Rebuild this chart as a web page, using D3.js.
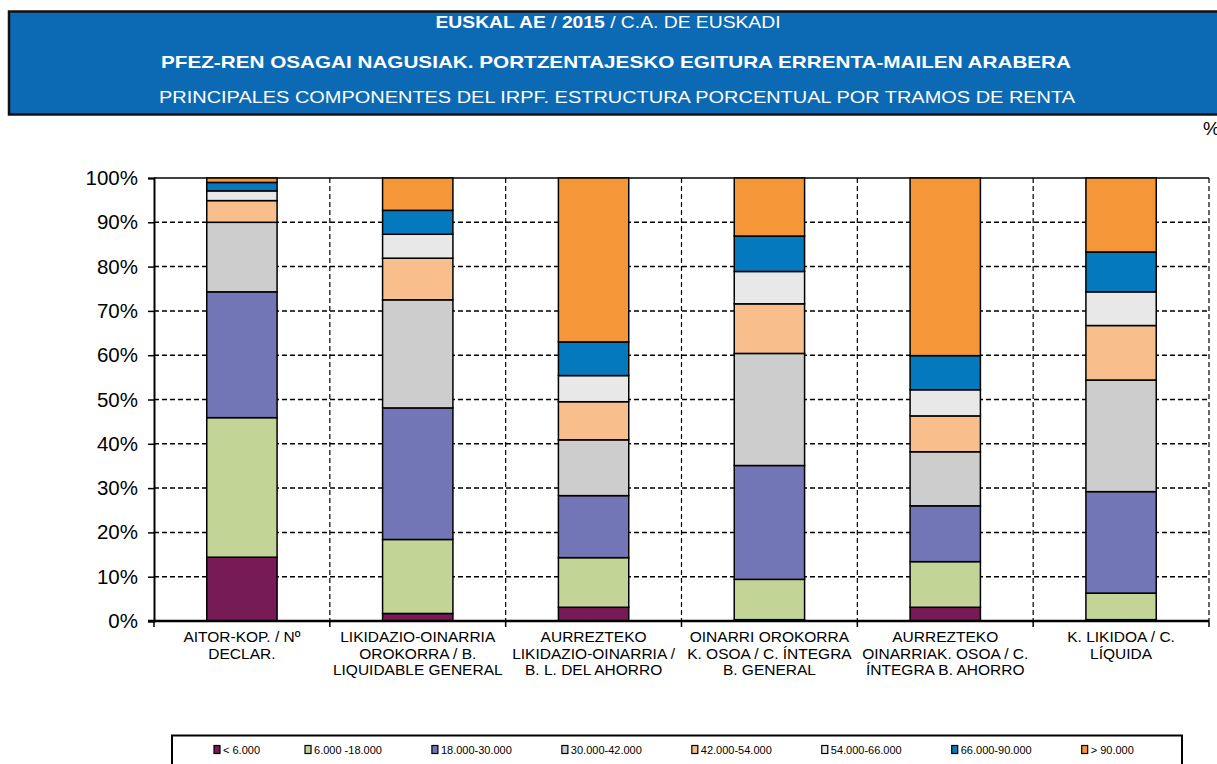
<!DOCTYPE html>
<html>
<head>
<meta charset="utf-8">
<script src="https://cdn.jsdelivr.net/npm/d3@7"></script>
<style>
  body { margin: 0; background: #fff; }
  svg { display: block; font-family: "Liberation Sans", Arial, sans-serif; }
</style>
</head>
<body>
<div id="chart"></div>
<script>
// categories (x axis labels, already wrapped as in the original)
var categories = [
  ['AITOR-KOP. / Nº', 'DECLAR.'],
  ['LIKIDAZIO-OINARRIA', 'OROKORRA / B.', 'LIQUIDABLE GENERAL'],
  ['AURREZTEKO', 'LIKIDAZIO-OINARRIA /', 'B. L. DEL AHORRO'],
  ['OINARRI OROKORRA', 'K. OSOA / C. ÍNTEGRA', 'B. GENERAL'],
  ['AURREZTEKO', 'OINARRIAK. OSOA / C.', 'ÍNTEGRA B. AHORRO'],
  ['K. LIKIDOA / C.', 'LÍQUIDA']
];

var brackets = ['< 6.000', '6.000 -18.000', '18.000-30.000', '30.000-42.000',
  '42.000-54.000', '54.000-66.000', '66.000-90.000', '> 90.000'];

// % share of each income bracket, one value per category
var b0_6 = [14.4, 1.7, 3.1, 0.3, 3.1, 0.3];
var b6_18 = [31.5, 16.7, 11.2, 9.1, 10.3, 6.0];
var b18_30 = [28.4, 29.7, 14.0, 25.7, 12.6, 22.9];
var b30_42 = [15.7, 24.4, 12.6, 25.3, 12.2, 25.2];
var b42_54 = [4.9, 9.4, 8.6, 11.2, 8.1, 12.3];
var b54_66 = [2.2, 5.4, 5.9, 7.3, 5.9, 7.6];
var b66_90 = [1.9, 5.4, 7.6, 8.0, 7.7, 9.0];
var b90 = [1.0, 7.3, 37.0, 13.1, 40.1, 16.7];

var colors = ['#761b55', '#c3d596', '#7276b6', '#cdcdcd', '#f8bf8c', '#e8e8e8', '#0479bd', '#f59738'];

var yTicks = [0, 10, 20, 30, 40, 50, 60, 70, 80, 90, 100];

var seriesValues = [b0_6, b6_18, b18_30, b30_42, b42_54, b54_66, b66_90, b90];

var rows = categories.map(function(c, i) {
  var r = { idx: i };
  brackets.forEach(function(b, j) { r[b] = seriesValues[j][i]; });
  return r;
});

var width = 1217, height = 764;
var plotLeft = 154, plotRight = 1209, plotTop = 178, plotBottom = 621;

var svg = d3.select('#chart').append('svg')
  .attr('width', width)
  .attr('height', height);

// title block
svg.append('rect')
  .attr('x', 9).attr('y', 11.5)
  .attr('width', 1230).attr('height', 103)
  .attr('fill', '#0c69b4')
  .attr('stroke', '#111').attr('stroke-width', 2.5);

var t1 = svg.append('text')
  .attr('x', 608).attr('y', 28)
  .attr('text-anchor', 'middle')
  .attr('fill', '#fff')
  .attr('font-size', 17)
  .attr('textLength', 345).attr('lengthAdjust', 'spacingAndGlyphs');
t1.append('tspan').attr('font-weight', 'bold').text('EUSKAL AE');
t1.append('tspan').text(' / ');
t1.append('tspan').attr('font-weight', 'bold').text('2015');
t1.append('tspan').text(' / C.A. DE EUSKADI');

svg.append('text')
  .attr('x', 616).attr('y', 68)
  .attr('text-anchor', 'middle')
  .attr('fill', '#fff')
  .attr('font-size', 17)
  .attr('font-weight', 'bold')
  .attr('textLength', 910).attr('lengthAdjust', 'spacingAndGlyphs')
  .text('PFEZ-REN OSAGAI NAGUSIAK. PORTZENTAJESKO EGITURA ERRENTA-MAILEN ARABERA');

svg.append('text')
  .attr('x', 617).attr('y', 103)
  .attr('text-anchor', 'middle')
  .attr('fill', '#fff')
  .attr('font-size', 17)
  .attr('textLength', 916).attr('lengthAdjust', 'spacingAndGlyphs')
  .text('PRINCIPALES COMPONENTES DEL IRPF. ESTRUCTURA PORCENTUAL  POR TRAMOS DE RENTA');

svg.append('text')
  .attr('x', 1203).attr('y', 135)
  .attr('font-size', 19)
  .attr('fill', '#000')
  .text('%');

// scales
var x = d3.scaleBand()
  .domain(d3.range(categories.length))
  .range([plotLeft, plotRight])
  .paddingInner(0.6)
  .paddingOuter(0.3);

var y = d3.scaleLinear()
  .domain([0, 100])
  .range([plotBottom, plotTop]);

var step = x.step();
var bounds = d3.range(categories.length + 1).map(function(i) { return plotLeft + i * step; });

// grid
var grid = svg.append('g');
grid.selectAll('.hg')
  .data(yTicks.filter(function(d) { return d > 0 && d < 100; }))
  .enter().append('line')
  .attr('x1', plotLeft).attr('x2', plotRight)
  .attr('y1', function(d) { return y(d); })
  .attr('y2', function(d) { return y(d); })
  .attr('stroke', '#000').attr('stroke-width', 1.5)
  .attr('stroke-dasharray', '5,3');

grid.selectAll('.vg')
  .data(bounds.slice(1))
  .enter().append('line')
  .attr('x1', function(d) { return d; }).attr('x2', function(d) { return d; })
  .attr('y1', plotTop).attr('y2', plotBottom)
  .attr('stroke', '#000').attr('stroke-width', 1.2)
  .attr('stroke-dasharray', '5,3');

grid.append('line')
  .attr('x1', plotLeft).attr('x2', plotRight)
  .attr('y1', y(100)).attr('y2', y(100))
  .attr('stroke', '#000').attr('stroke-width', 1.5);

// stacked bars
var stack = d3.stack().keys(brackets);
var layers = stack(rows);

svg.append('g').selectAll('g')
  .data(layers)
  .enter().append('g')
  .attr('fill', function(d, i) { return colors[i]; })
  .selectAll('rect')
  .data(function(d) { return d; })
  .enter().append('rect')
  .attr('x', function(d) { return x(d.data.idx); })
  .attr('width', x.bandwidth())
  .attr('y', function(d) { return y(d[1]); })
  .attr('height', function(d) { return y(d[0]) - y(d[1]); })
  .attr('stroke', '#000')
  .attr('stroke-width', 1.5);

// y axis
var yAxis = d3.axisLeft(y)
  .tickValues(yTicks)
  .tickSize(6)
  .tickFormat(function(d) { return d + '%'; });

var yg = svg.append('g')
  .attr('transform', 'translate(' + plotLeft + ',0)')
  .call(yAxis);
yg.select('.domain').attr('stroke', '#000').attr('stroke-width', 2);
yg.selectAll('.tick line').attr('stroke', '#000').attr('stroke-width', 1.5);
yg.selectAll('.tick text')
  .attr('font-size', 20.5)
  .attr('font-family', '"Liberation Sans", Arial, sans-serif')
  .attr('fill', '#000')
  .attr('x', -16);

// x axis
svg.append('line')
  .attr('x1', plotLeft - 6).attr('x2', plotRight)
  .attr('y1', plotBottom).attr('y2', plotBottom)
  .attr('stroke', '#000').attr('stroke-width', 2.5);

svg.append('g').selectAll('line')
  .data(bounds)
  .enter().append('line')
  .attr('x1', function(d) { return d; }).attr('x2', function(d) { return d; })
  .attr('y1', plotBottom).attr('y2', plotBottom + 6)
  .attr('stroke', '#000').attr('stroke-width', 1.5);

var xl = svg.append('g').selectAll('text')
  .data(categories)
  .enter().append('text')
  .attr('text-anchor', 'middle')
  .attr('font-size', 15.5)
  .attr('fill', '#000')
  .attr('transform', function(d, i) { return 'translate(' + (x(i) + x.bandwidth() / 2) + ',' + (plotBottom + 21) + ')'; });

xl.selectAll('tspan')
  .data(function(d) { return d; })
  .enter().append('tspan')
  .attr('x', 0)
  .attr('dy', function(d, i) { return i === 0 ? 0 : 16.5; })
  .text(function(d) { return d; });

// legend
svg.append('rect')
  .attr('x', 172).attr('y', 735.5)
  .attr('width', 1010).attr('height', 40)
  .attr('fill', '#fff')
  .attr('stroke', '#000').attr('stroke-width', 2);

var lg = svg.append('g');
var lx = 214;
brackets.forEach(function(b, i) {
  var item = lg.append('g').attr('transform', 'translate(' + lx + ',750)');
  item.append('rect')
    .attr('x', 0).attr('y', -4.5)
    .attr('width', 6).attr('height', 8)
    .attr('fill', colors[i])
    .attr('stroke', '#000').attr('stroke-width', 1.2);
  var tx = item.append('text')
    .attr('x', 9).attr('y', 4)
    .attr('font-size', 11)
    .attr('fill', '#000')
    .text(b);
  lx += 9 + tx.node().getComputedTextLength() + (i === 0 ? 45 : 50);
});
</script>
</body>
</html>
